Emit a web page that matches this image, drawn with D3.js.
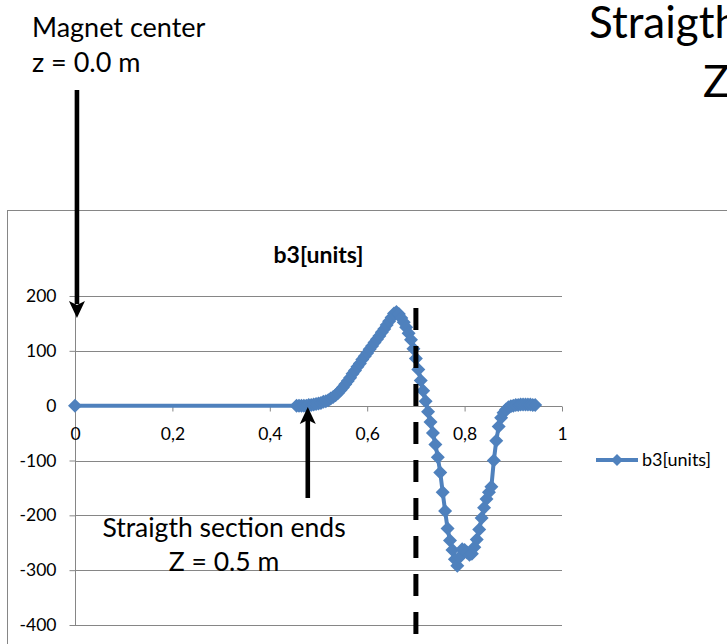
<!DOCTYPE html>
<html>
<head>
<meta charset="utf-8">
<script src="https://cdn.jsdelivr.net/npm/d3@7"></script>
<style>
  html, body { margin: 0; padding: 0; background: #fff; overflow: hidden; }
  svg { display: block; font-family: Lato, "Open Sans", "DejaVu Sans", sans-serif; }
</style>
</head>
<body>
<svg id="chart" width="727" height="644"></svg>
<script>
// Position along the magnet axis, z [m]
const zValues = [
  0,
  0.455, 0.460, 0.465, 0.470, 0.475, 0.480, 0.485, 0.490, 0.495,
  0.500, 0.505, 0.510, 0.515, 0.520, 0.525, 0.530, 0.535, 0.540, 0.545,
  0.550, 0.555, 0.560, 0.565, 0.570, 0.575, 0.580, 0.585, 0.590, 0.595,
  0.600, 0.605, 0.610, 0.615, 0.620, 0.625, 0.630, 0.635, 0.640, 0.645,
  0.650, 0.655, 0.660, 0.665, 0.670, 0.675, 0.680, 0.685, 0.690, 0.695,
  0.700, 0.705, 0.710, 0.715, 0.720, 0.725, 0.730, 0.735, 0.740, 0.745,
  0.750, 0.755, 0.760, 0.765, 0.770, 0.775, 0.780, 0.785, 0.790, 0.795,
  0.800, 0.805, 0.810, 0.815, 0.820, 0.825, 0.830, 0.835, 0.840, 0.845,
  0.850, 0.855, 0.860, 0.865, 0.870, 0.875, 0.880, 0.885, 0.890, 0.895,
  0.900, 0.905, 0.910, 0.915, 0.920, 0.925, 0.930, 0.935, 0.940, 0.945
];

// Sextupole harmonic b3 [units] at each z
const b3Values = [
  0,
  0, 0, 0, 0, 0, 1, 1, 2, 3,
  4, 5, 7, 8, 10, 13, 16, 19, 23, 28,
  33, 39, 45, 51, 58, 64, 71, 77, 84, 90,
  96, 103, 109, 115, 121, 127, 134, 140, 147, 154,
  161, 168, 171, 167, 160, 152, 143, 132, 120, 104,
  86, 66, 46, 27, 8, -11, -30, -50, -71, -94,
  -122, -158, -192, -224, -246, -263, -280, -292, -276, -262,
  -263, -268, -272, -270, -258, -244, -226, -205, -186, -170,
  -158, -148, -100, -64, -38, -22, -13, -7, -3, -1,
  0, 1, 1, 2, 2, 2, 2, 2, 1, 1
];

const seriesName = "b3[units]";
const xTicks = [0, 0.2, 0.4, 0.6, 0.8, 1];
const yTicks = [-400, -300, -200, -100, 0, 100, 200];

// Annotation positions (z in metres)
const magnetCenterZ = 0.004;
const straightEndMarkZ = 0.478;
const fringeZ = 0.7;

const blue = "#4F81BD";
const gridGray = "#868686";

const svg = d3.select("#chart");
const x = d3.scaleLinear().domain([0, 1]).range([75, 562]);
const y = d3.scaleLinear().domain([-400, 200]).range([625, 296]);

// chart area frame
svg.append("rect")
  .attr("x", 7.5).attr("y", 210.5)
  .attr("width", 760).attr("height", 480)
  .attr("fill", "#fff").attr("stroke", gridGray).attr("stroke-width", 1);

// horizontal gridlines
svg.append("g").selectAll("line").data(yTicks).join("line")
  .attr("x1", x(0)).attr("x2", x(1))
  .attr("y1", d => Math.round(y(d)) + 0.5).attr("y2", d => Math.round(y(d)) + 0.5)
  .attr("stroke", gridGray).attr("stroke-width", 1);

// y axis
const yAxis = svg.append("g")
  .attr("transform", `translate(${Math.round(x(0)) + 0.5},0)`)
  .call(d3.axisLeft(y).tickValues(yTicks).tickSize(6).tickPadding(13)
    .tickFormat(d => String(d)));
yAxis.select(".domain").remove();
yAxis.selectAll(".tick line").attr("stroke", gridGray);
yAxis.selectAll(".tick text").attr("fill", "#000").style("font-size", "17.5px")
  .style("font-family", "Lato, sans-serif");
yAxis.append("line")
  .attr("x1", 0).attr("x2", 0).attr("y1", y(200)).attr("y2", y(-400))
  .attr("stroke", gridGray);

// x axis drawn through zero
const xAxis = svg.append("g")
  .attr("transform", `translate(0,${Math.round(y(0)) + 0.5})`)
  .call(d3.axisBottom(x).tickValues(xTicks).tickSize(5).tickPadding(16)
    .tickFormat(d => String(d).replace(".", ",")));
xAxis.select(".domain").remove();
xAxis.selectAll(".tick line").attr("stroke", gridGray);
xAxis.selectAll(".tick text").attr("fill", "#000").style("font-size", "17.5px")
  .style("font-family", "Lato, sans-serif");
xAxis.append("line")
  .attr("x1", x(0)).attr("x2", x(1)).attr("y1", 0).attr("y2", 0)
  .attr("stroke", gridGray);

// title
svg.append("text")
  .attr("x", (x(0) + x(1)) / 2).attr("y", 263)
  .attr("text-anchor", "middle")
  .style("font-size", "23px").style("font-weight", "bold")
  .text(seriesName);

// series
const points = zValues.map((z, i) => ({ z, v: b3Values[i] }));
const diamond = r => `M0,${-r}L${r},0L0,${r}L${-r},0Z`;

svg.append("path")
  .datum(points)
  .attr("fill", "none").attr("stroke", blue).attr("stroke-width", 4)
  .attr("stroke-linejoin", "round")
  .attr("d", d3.line().x(d => x(d.z)).y(d => y(d.v)));

svg.append("g").selectAll("path").data(points).join("path")
  .attr("transform", d => `translate(${x(d.z)},${y(d.v)})`)
  .attr("d", diamond(7))
  .attr("fill", blue);

// legend
const lg = svg.append("g").attr("transform", "translate(596,460)");
lg.append("line").attr("x1", 0).attr("x2", 42).attr("y1", 0).attr("y2", 0)
  .attr("stroke", blue).attr("stroke-width", 4);
lg.append("path").attr("transform", "translate(21,0)").attr("d", diamond(6)).attr("fill", blue);
lg.append("text").attr("x", 46).attr("y", 0).attr("dy", "0.35em")
  .style("font-size", "18px").text(seriesName);

// fringe field marker: dashed vertical line
svg.append("line")
  .attr("x1", x(fringeZ)).attr("x2", x(fringeZ))
  .attr("y1", 308).attr("y2", 660)
  .attr("stroke", "#000").attr("stroke-width", 5)
  .attr("stroke-dasharray", "22 16");

// annotations
const ann = svg.append("g").attr("fill", "#000");

// "Magnet center" arrow pointing down onto z = 0
const ax1 = x(magnetCenterZ);
ann.append("rect").attr("x", ax1 - 2.3).attr("y", 90).attr("width", 4.6).attr("height", 214);
ann.append("path").attr("d",
  `M${ax1 - 8},301 L${ax1},305 L${ax1 + 8},301 L${ax1},318 Z`);

// "Straigth section ends" arrow pointing up
const ax2 = x(straightEndMarkZ);
ann.append("rect").attr("x", ax2 - 2.3).attr("y", 419).attr("width", 4.6).attr("height", 79);
ann.append("path").attr("d",
  `M${ax2 - 8},424 L${ax2},420 L${ax2 + 8},424 L${ax2},407 Z`);

const label = (tx, ty, size, str, anchor) => ann.append("text")
  .attr("x", tx).attr("y", ty)
  .attr("text-anchor", anchor || "start")
  .style("font-size", size + "px")
  .text(str);

label(32, 37, 27, "Magnet center");
label(32, 72, 27, "z = 0.0 m");

label(589, 38, 44, "Straigth section ends");
label(703, 97, 44, "Z = 0.7 m");

label(224, 537, 26.5, "Straigth section ends", "middle");
label(224, 571, 26.5, "Z = 0.5 m", "middle");
</script>
</body>
</html>
